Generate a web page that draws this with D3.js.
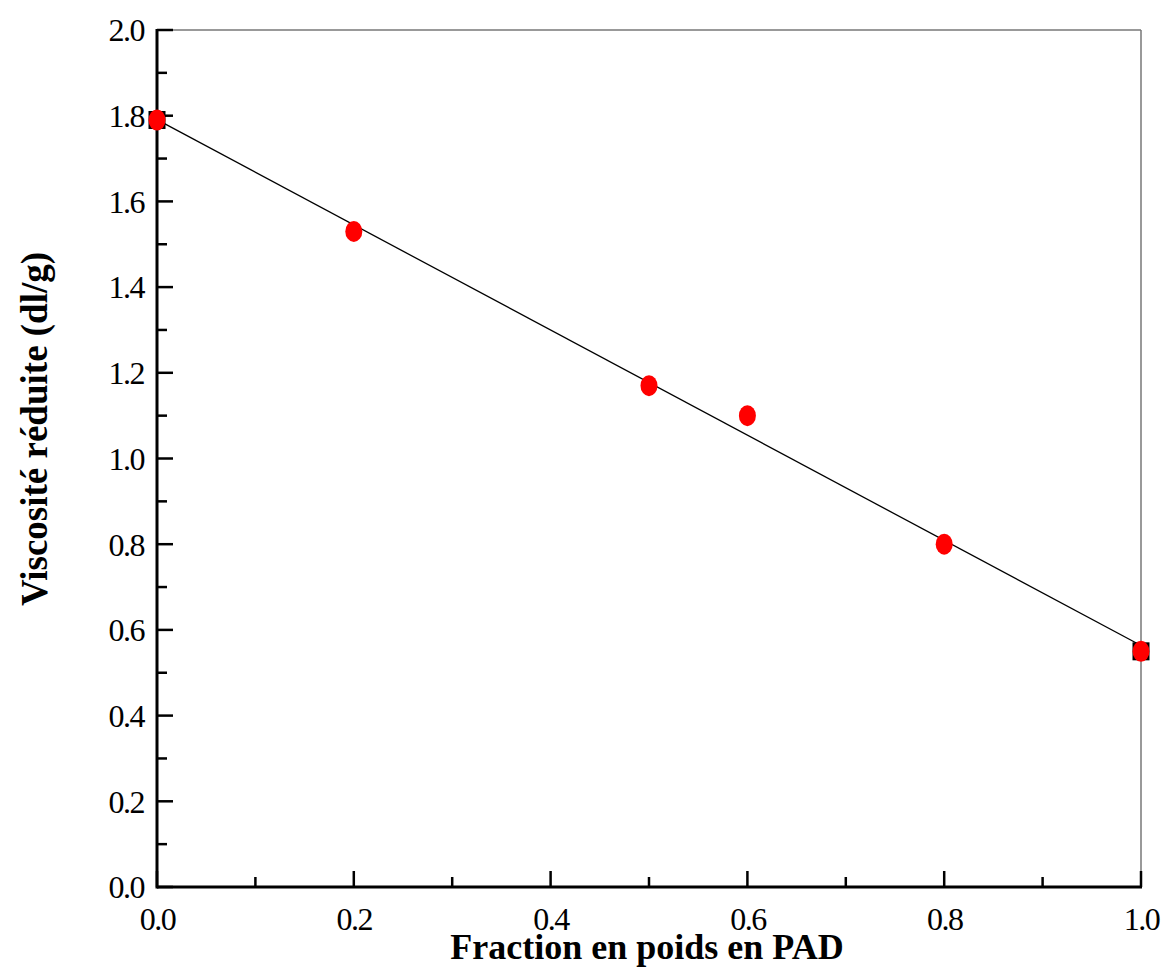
<!DOCTYPE html>
<html><head><meta charset="utf-8">
<script src="https://cdn.jsdelivr.net/npm/d3@7"></script>
<style>body{margin:0;background:#fff}svg{display:block}text{font-family:"Liberation Serif","Times New Roman",serif}</style>
</head><body><svg id="c" width="1166" height="969"></svg>
<script>
const fraction = [0.0, 0.2, 0.5, 0.6, 0.8, 1.0];
const viscosity = [1.79, 1.53, 1.17, 1.10, 0.80, 0.55];
const squareX = [0.0, 1.0];
const squareY = [1.79, 0.55];
const xTicks = [0, 0.2, 0.4, 0.6, 0.8, 1.0];
const xMinor = [0.1, 0.3, 0.5, 0.7, 0.9];
const yTicks = [0, 0.2, 0.4, 0.6, 0.8, 1.0, 1.2, 1.4, 1.6, 1.8, 2.0];
const yMinor = [0.1, 0.3, 0.5, 0.7, 0.9, 1.1, 1.3, 1.5, 1.7, 1.9];

const L = 157, R = 1141, T = 30, B = 887;
const x = d3.scaleLinear().domain([0, 1]).range([L, R]);
const y = d3.scaleLinear().domain([0, 2]).range([B, T]);
const svg = d3.select("#c");

// linear fit
const n = fraction.length;
const mx = d3.mean(fraction), my = d3.mean(viscosity);
let sxy = 0, sxx = 0;
for (let i = 0; i < n; i++) { sxy += (fraction[i]-mx)*(viscosity[i]-my); sxx += (fraction[i]-mx)**2; }
const slope = sxy / sxx, icpt = my - slope * mx;

// frame top/right
svg.append("line").attr("x1", L).attr("x2", R).attr("y1", T).attr("y2", T).attr("stroke", "#777").attr("stroke-width", 1.5);
svg.append("line").attr("x1", R).attr("x2", R).attr("y1", T).attr("y2", B).attr("stroke", "#777").attr("stroke-width", 1.5);

// fit line
svg.append("line").attr("x1", x(0)).attr("y1", y(icpt)).attr("x2", x(1)).attr("y2", y(icpt + slope))
  .attr("stroke", "#000").attr("stroke-width", 1.3);

// axes
const xAxis = d3.axisBottom(x).tickValues(xTicks).tickSize(0).tickPadding(0).tickFormat(d3.format(".1f"));
const gx = svg.append("g").attr("transform", `translate(0,${B})`).call(xAxis);
gx.select(".domain").remove();
gx.selectAll("text").attr("dy", null).attr("y", 43).attr("font-size", 32).attr("fill", "#000").attr("letter-spacing", -1.5);
const yAxis = d3.axisLeft(y).tickValues(yTicks).tickSize(0).tickPadding(0).tickFormat(d3.format(".1f"));
const gy = svg.append("g").attr("transform", `translate(${L},0)`).call(yAxis);
gy.select(".domain").remove();
gy.selectAll("text").attr("x", -13).attr("dy", "0.34em").attr("font-size", 32).attr("fill", "#000").attr("letter-spacing", -1.5);

// ticks (inward)
const tk = svg.append("g").attr("stroke", "#000").attr("stroke-width", 2.5);
xTicks.forEach(v => tk.append("line").attr("x1", x(v)).attr("x2", x(v)).attr("y1", B).attr("y2", B - 16));
xMinor.forEach(v => tk.append("line").attr("x1", x(v)).attr("x2", x(v)).attr("y1", B).attr("y2", B - 10));
yTicks.forEach(v => tk.append("line").attr("y1", y(v)).attr("y2", y(v)).attr("x1", L).attr("x2", L + 16));
yMinor.forEach(v => tk.append("line").attr("y1", y(v)).attr("y2", y(v)).attr("x1", L).attr("x2", L + 10));

// main axis lines
svg.append("line").attr("x1", L).attr("x2", R + 1).attr("y1", B).attr("y2", B).attr("stroke", "#000").attr("stroke-width", 3);
svg.append("line").attr("x1", L).attr("x2", L).attr("y1", T - 1).attr("y2", B + 1.5).attr("stroke", "#000").attr("stroke-width", 3);

// square markers
svg.append("g").selectAll("rect").data(squareX.map((d, i) => [d, squareY[i]])).join("rect")
  .attr("x", d => x(d[0]) - 8.5).attr("y", d => y(d[1]) - 9).attr("width", 17).attr("height", 18).attr("fill", "#000");

// circle markers
svg.append("g").selectAll("ellipse").data(fraction.map((d, i) => [d, viscosity[i]])).join("ellipse")
  .attr("cx", d => x(d[0])).attr("cy", d => y(d[1])).attr("rx", 8.5).attr("ry", 10.5).attr("fill", "#ff0000");

// titles
svg.append("text").attr("x", 647).attr("y", 959).attr("text-anchor", "middle").attr("font-size", 36).attr("font-weight", "bold").text("Fraction en poids en PAD");
svg.append("text").attr("transform", "translate(47,429) rotate(-90)").attr("text-anchor", "middle").attr("font-size", 37).attr("font-weight", "bold").text("Viscosité réduite (dl/g)");
</script></body></html>
